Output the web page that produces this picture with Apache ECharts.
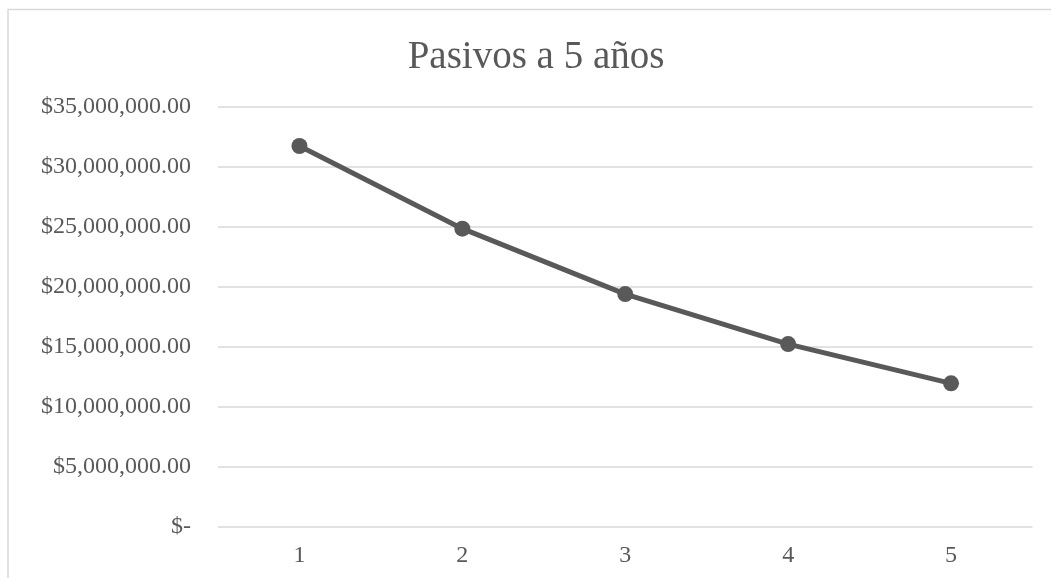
<!DOCTYPE html>
<html>
<head>
<meta charset="utf-8">
<title>Pasivos a 5 años</title>
<script src="https://cdn.jsdelivr.net/npm/echarts@6/dist/echarts.min.js"></script>
<style>
  html, body { margin: 0; padding: 0; background: #ffffff; }
  #chart { width: 1051px; height: 578px; }
</style>
</head>
<body>
<div id="chart"></div>
<script>
// Years of the projection and the liabilities for each year
const years = ['1', '2', '3', '4', '5'];
const pasivos = [31710000, 24820000, 19370000, 15200000, 11930000];

// Value axis range
const yMin = 0;
const yMax = 35000000;
const yStep = 5000000;

const FONT = '"Liberation Serif", "Times New Roman", serif';
const GREY = '#595959';

function money(v) {
  if (v === 0) return '$-';
  return '$' + v.toLocaleString('en-US', { minimumFractionDigits: 2, maximumFractionDigits: 2 });
}

const chart = echarts.init(document.getElementById('chart'), null, { renderer: 'canvas' });

chart.setOption({
  backgroundColor: '#ffffff',
  animation: false,
  title: {
    text: 'Pasivos a 5 años',
    left: 531,
    top: 33,
    textAlign: 'center',
    textStyle: { fontFamily: FONT, fontSize: 39, fontWeight: 'normal', color: GREY }
  },
  graphic: [{
    type: 'rect',
    shape: { x: 8, y: 9.5, width: 1200, height: 800 },
    style: { fill: 'none', stroke: '#d9d9d9', lineWidth: 1.5 },
    silent: true
  }],
  grid: { left: 218, right: 18.5, top: 106.5, bottom: 51.5, containLabel: false },
  xAxis: {
    type: 'category',
    data: years,
    boundaryGap: true,
    axisLine: { show: false },
    axisTick: { show: false },
    axisLabel: { fontFamily: FONT, fontSize: 24, color: GREY, margin: 17 }
  },
  yAxis: {
    type: 'value',
    min: yMin,
    max: yMax,
    interval: yStep,
    axisLine: { show: false },
    axisTick: { show: false },
    splitLine: { lineStyle: { color: '#d9d9d9', width: 1.5 } },
    axisLabel: { fontFamily: FONT, fontSize: 24, color: GREY, margin: 27, formatter: money }
  },
  series: [{
    type: 'line',
    data: pasivos,
    symbol: 'circle',
    symbolSize: 16,
    lineStyle: { color: GREY, width: 5 },
    itemStyle: { color: GREY }
  }]
});
</script>
</body>
</html>
